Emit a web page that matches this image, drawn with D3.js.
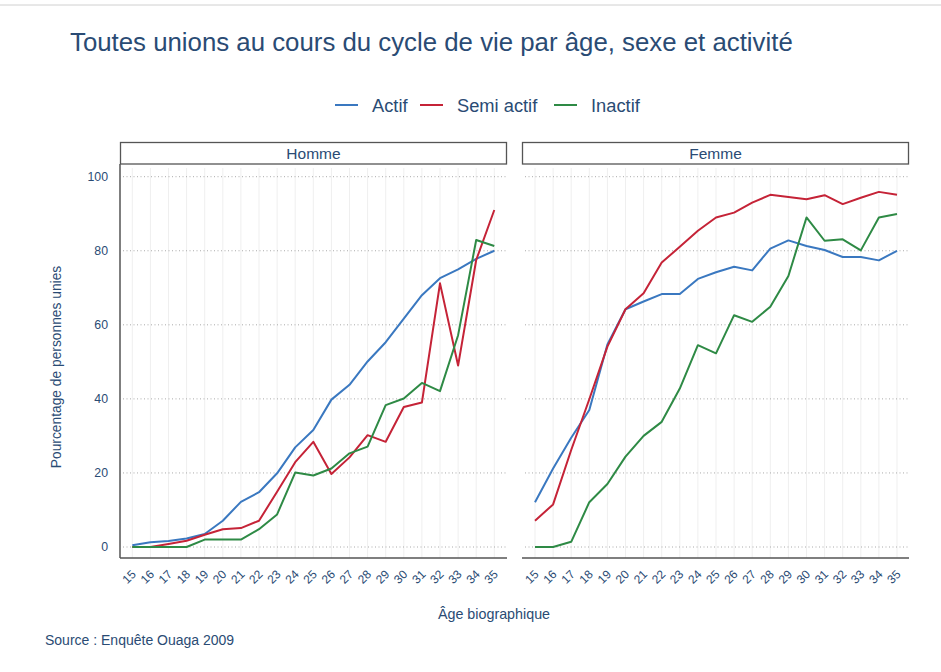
<!DOCTYPE html>
<html><head><meta charset="utf-8">
<script src="https://cdn.jsdelivr.net/npm/d3@7"></script>
<style>body{margin:0;background:#fff;}svg{display:block;font-family:"Liberation Sans",Arial,sans-serif;}</style>
</head><body>
<svg id="c" width="941" height="672"></svg>
<script>
const ages = [15,16,17,18,19,20,21,22,23,24,25,26,27,28,29,30,31,32,33,34,35];
const seriesNames = ["Actif","Semi actif","Inactif"];
const panels = ["Homme","Femme"];
const yTicks = [0,20,40,60,80,100];
// Homme
const hommeActif    = [0.5,1.3,1.6,2.3,3.5,7.1,12.2,14.8,19.9,26.9,31.6,39.8,43.8,50.1,55.3,61.7,68,72.6,75,77.8,80];
const hommeSemi     = [0,0,0.8,1.7,3.3,4.8,5.1,7.1,14.9,22.9,28.4,19.7,24.2,30.2,28.4,37.8,39,71.2,49,77.5,91];
const hommeInactif  = [0,0,0,0,2,2,2,4.8,8.8,20.1,19.3,21.2,25.3,27.1,38.3,40.1,44.3,42.1,57.2,82.9,81.3];
// Femme
const femmeActif    = [12.1,21.2,29.5,37,54.7,64.2,66.3,68.3,68.3,72.4,74.2,75.7,74.7,80.6,82.8,81.3,80.2,78.3,78.3,77.4,80];
const femmeSemi     = [7.1,11.5,26.2,39.9,54.1,64.2,68.5,76.8,81.1,85.4,89,90.3,93,95.1,94.5,93.9,95,92.6,94.3,95.9,95.1];
const femmeInactif  = [0,0,1.4,12.1,17,24.4,30,33.8,42.8,54.5,52.3,62.6,60.8,64.9,73.2,89,82.7,83.1,80.1,89,89.9];

const colors = ["#3a78c0","#c52337","#2e8a45"];
const textCol = "#2a4b74";
const data = {
  Homme: [hommeActif, hommeSemi, hommeInactif],
  Femme: [femmeActif, femmeSemi, femmeInactif]
};

const svg = d3.select("#c");
// top thin line
svg.append("line").attr("x1",0).attr("x2",941).attr("y1",5).attr("y2",5).attr("stroke","#d0d0d0").attr("stroke-width",1);

svg.append("text").attr("x",70).attr("y",51).attr("fill",textCol)
  .attr("font-size",25.8).text("Toutes unions au cours du cycle de vie par âge, sexe et activité");

// legend
const legX = [335,420,554];
seriesNames.forEach((s,i)=>{
  svg.append("line").attr("x1",legX[i]).attr("x2",legX[i]+23).attr("y1",105).attr("y2",105)
    .attr("stroke",colors[i]).attr("stroke-width",2);
  svg.append("text").attr("x",legX[i]+37).attr("y",112).attr("fill",textCol).attr("font-size",18.3).text(s);
});

const y = d3.scaleLinear().domain([0,100]).range([547,176.7]);
const panelX = {Homme:[120,507], Femme:[522,909]};
const pointX = {Homme:[132.3,494.3], Femme:[535,897]};

panels.forEach(p=>{
  const [x0,x1] = panelX[p];
  const x = d3.scaleLinear().domain([15,35]).range(pointX[p]);
  const g = svg.append("g");
  // strip
  g.append("rect").attr("x",x0+0.5).attr("y",142.5).attr("width",x1-x0-1).attr("height",21.5)
    .attr("fill","#fff").attr("stroke","#555").attr("stroke-width",1.3);
  g.append("text").attr("x",(x0+x1)/2).attr("y",158.5).attr("text-anchor","middle")
    .attr("fill",textCol).attr("font-size",15.5).text(p);
  // vertical grid
  g.selectAll(".vg").data(ages).join("line")
    .attr("x1",d=>x(d)).attr("x2",d=>x(d)).attr("y1",168).attr("y2",558)
    .attr("stroke","#efefef").attr("stroke-width",1);
  // horizontal grid
  g.selectAll(".hg").data(yTicks).join("line")
    .attr("x1",x0+3).attr("x2",x1).attr("y1",d=>y(d)).attr("y2",d=>y(d))
    .attr("stroke","#aaa").attr("stroke-width",1).attr("stroke-dasharray","1,2.5");
  // x axis
  const xa = g.append("g").attr("transform","translate(0,558)")
    .call(d3.axisBottom(x).tickValues(ages).tickFormat(d3.format("d")).tickSize(0).tickPadding(0));
  xa.select(".domain").remove();
  xa.selectAll("text").attr("fill",textCol).attr("font-size",12)
    .attr("font-family","Liberation Sans, Arial, sans-serif")
    .attr("text-anchor","end").attr("dy",null)
    .attr("transform","translate(4,17) rotate(-45)");
  g.append("line").attr("x1",x0).attr("x2",x1).attr("y1",558).attr("y2",558)
    .attr("stroke","#555").attr("stroke-width",1.5);
  if(p==="Homme"){
    g.append("line").attr("x1",x0).attr("x2",x0).attr("y1",164).attr("y2",558)
      .attr("stroke","#555").attr("stroke-width",1.5);
    const ya = g.append("g").attr("transform",`translate(${x0-12},0)`)
      .call(d3.axisLeft(y).tickValues(yTicks).tickSize(0).tickPadding(0));
    ya.select(".domain").remove();
    ya.selectAll("text").attr("fill",textCol).attr("font-size",12.3)
      .attr("font-family","Liberation Sans, Arial, sans-serif");
  }
  // lines
  const line = d3.line().x((d,i)=>x(ages[i])).y(d=>y(d));
  data[p].forEach((vals,i)=>{
    g.append("path").datum(vals).attr("d",line).attr("fill","none")
      .attr("stroke",colors[i]).attr("stroke-width",2).attr("stroke-linejoin","round");
  });
});

svg.append("text").attr("transform","translate(61,367) rotate(-90)").attr("text-anchor","middle")
  .attr("fill",textCol).attr("font-size",13.8).text("Pourcentage de personnes unies");
svg.append("text").attr("x",494).attr("y",619).attr("text-anchor","middle")
  .attr("fill",textCol).attr("font-size",14.3).text("Âge biographique");
svg.append("text").attr("x",45).attr("y",645).attr("fill",textCol)
  .attr("font-size",14).text("Source : Enquête Ouaga 2009");
</script>
</body></html>
